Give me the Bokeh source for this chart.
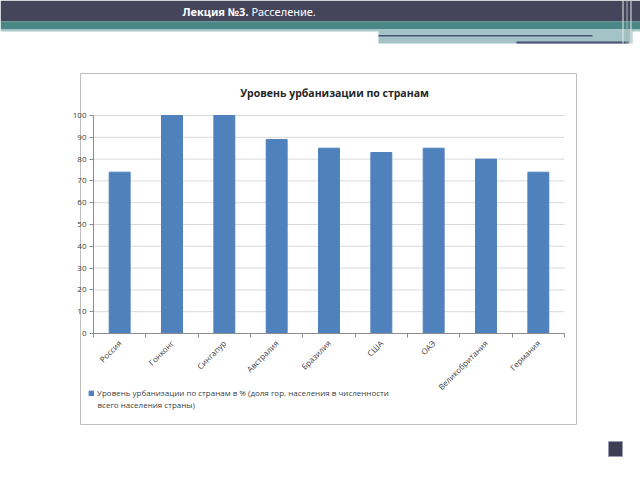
import math
from bokeh.plotting import figure
from bokeh.models import (Range1d, LinearAxis, FixedTicker, Label, Legend, LegendItem,
                          ColumnDataSource)
from bokeh.embed import file_html
from bokeh.resources import INLINE

# ---- data ----
countries = ['Россия', 'Гонконг', 'Сингапур', 'Австралия', 'Бразилия',
             'США', 'ОАЭ', 'Великобритания', 'Германия']
urbanization = [74, 100, 100, 89, 85, 83, 85, 80, 74]
y_ticks = [0, 10, 20, 30, 40, 50, 60, 70, 80, 90, 100]
chart_title = 'Уровень урбанизации по странам'
series_name = ('Уровень урбанизации по странам в % (доля гор. населения в численности\n'
               'всего населения страны)')
header_bold = 'Лекция №3.'
header_normal = 'Расселение.'

# ---- layout (page pixels) ----
W, H = 640, 480
FL, FR, FT, FB = 93, 564, 115, 333      # plot area of the chart on the page
FONT = "Open Sans"
GRAY = "#8c8c8c"

n = len(countries)
centers = [i + 0.5 for i in range(n)]
boundaries = list(range(n + 1))
px_x = (FR - FL) / n
px_y = (FB - FT) / 100.0

p = figure(width=W, height=H,
           x_range=Range1d(-FL / px_x, n + (W - FR) / px_x),
           y_range=Range1d(-(H - FB) / px_y, 100 + FT / px_y),
           output_backend="svg", toolbar_location=None,
           x_axis_location=None, y_axis_location=None, min_border=0)
p.outline_line_color = None
p.background_fill_color = "white"
p.border_fill_color = "white"
p.grid.visible = False
# page-pixel coordinate system for the slide decorations
p.extra_x_ranges = {"px": Range1d(0, W)}
p.extra_y_ranges = {"px": Range1d(H, 0)}


def rect(x0, y0, x1, y1, color, line_color=None, fill_alpha=1.0):
    p.quad(left=[x0], right=[x1], top=[y0], bottom=[y1], fill_color=color,
           fill_alpha=fill_alpha, line_color=line_color,
           x_range_name="px", y_range_name="px")


def label(x, y, text, size, bold=False, align="left", color="#404040", font=FONT):
    p.add_layout(Label(x=x, y=y, x_range_name="px", y_range_name="px", text=text,
                       text_font=font, text_font_size=size,
                       text_font_style="bold" if bold else "normal",
                       text_align=align, text_baseline="middle", text_color=color))


# slide header
rect(0, 0, 640, 21, "#44445a")
rect(0, 21, 640, 29, "#4a8888")
rect(0, 29, 640, 31, "#a9c8c8")
rect(378, 29, 632, 43, "#a3c4c7")
rect(378, 34.5, 592, 36, "#4a4f78")
rect(516, 41, 628, 43, "#4a4f78")
rect(622, 0, 623, 43, "#e8e8e8")
rect(626, 0, 627, 43, "#b0b0b0")
rect(630, 0, 631, 43, "#e8e8e8")
label(248, 11, header_bold, "11px", bold=True, align="right", color="white", font="Noto Sans")
label(251, 11, header_normal, "11px", align="left", color="white", font="Noto Sans")

# bottom-right square
rect(608, 441, 622, 456, "#3d3d55", line_color="#9a9ab0")

# chart border
rect(80, 73, 576, 424, "white", line_color="#bfbfbf", fill_alpha=0.0)

# chart title
label(334, 92, chart_title, "10.5px", bold=True, align="center", color="#262626")

# horizontal gridlines
p.segment(x0=[0] * len(y_ticks), x1=[n] * len(y_ticks), y0=y_ticks, y1=y_ticks,
          line_color="#d9d9d9", line_width=1)

# bars
src = ColumnDataSource(dict(x=centers, top=urbanization, country=countries))
bars = p.vbar(x="x", top="top", width=0.4, source=src,
              fill_color="#4f81bd", line_color="#4f81bd")

# y axis
ya = LinearAxis(ticker=FixedTicker(ticks=y_ticks), fixed_location=0, bounds=(0, 100))
ya.axis_line_color = GRAY
ya.major_tick_line_color = GRAY
ya.major_tick_out = 4
ya.major_tick_in = 0
ya.minor_tick_line_color = None
ya.major_label_text_font = FONT
ya.major_label_text_font_size = "8px"
ya.major_label_text_color = "#404040"
ya.major_label_standoff = 3
p.add_layout(ya, "left")

# x axis: labels at category centres, tick marks between categories
xa = LinearAxis(ticker=FixedTicker(ticks=centers, minor_ticks=boundaries),
                fixed_location=0, bounds=(0, n),
                major_label_overrides={c: name for c, name in zip(centers, countries)})
xa.axis_line_color = GRAY
xa.major_tick_line_color = None
xa.major_tick_out = 0
xa.major_tick_in = 0
xa.minor_tick_line_color = GRAY
xa.minor_tick_out = 4
xa.minor_tick_in = 0
xa.major_label_orientation = math.pi / 4
xa.major_label_text_font = FONT
xa.major_label_text_font_size = "8px"
xa.major_label_text_color = "#404040"
xa.major_label_standoff = 4
p.add_layout(xa, "below")

# legend (first line in the legend entry, continuation line below it)
legend_line1, legend_line2 = series_name.split("\n")
legend = Legend(items=[LegendItem(label=legend_line1, renderers=[bars])],
                location=(88, H - 398), orientation="vertical",
                glyph_width=6, glyph_height=6, label_standoff=3,
                padding=0, margin=0, spacing=0,
                label_text_font=FONT, label_text_font_size="8px",
                label_text_color="#404040", label_text_line_height=1.35,
                border_line_color=None, background_fill_alpha=0)
p.add_layout(legend)
label(97, 404, legend_line2, "8px")

open("out.html", "w").write(file_html(p, INLINE))
